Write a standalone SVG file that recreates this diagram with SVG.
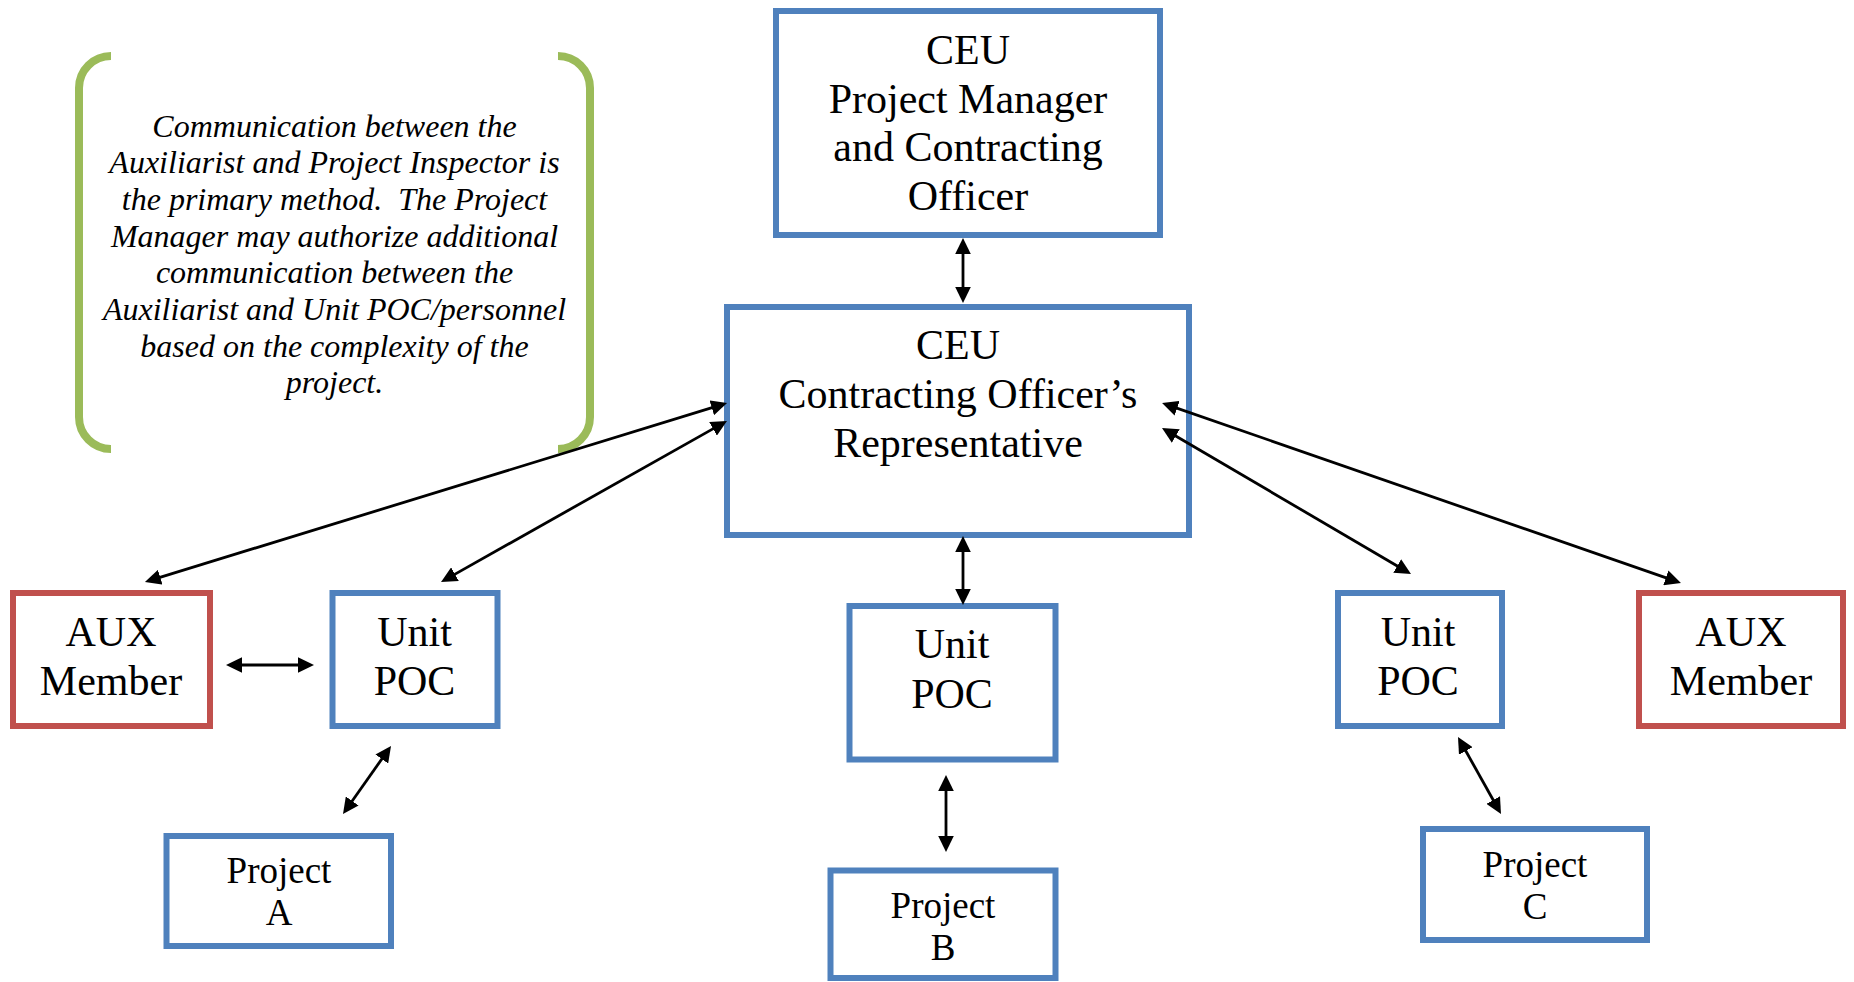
<svg xmlns="http://www.w3.org/2000/svg" width="1854" height="982" viewBox="0 0 1854 982">
<style>
.box{fill:#fff;stroke:#4F81BD;stroke-width:6}
.aux{fill:#fff;stroke:#C0504D;stroke-width:6}
.t{font-family:"Liberation Serif","Times New Roman",serif;font-size:42px;fill:#000;text-anchor:middle}
.p{font-family:"Liberation Serif","Times New Roman",serif;font-size:37px;fill:#000;text-anchor:middle}
.note{font-family:"Liberation Serif","Times New Roman",serif;font-size:32px;font-style:italic;fill:#000;text-anchor:middle}
.br{fill:none;stroke:#9BBB59;stroke-width:8}
.c line{stroke:#000;stroke-width:2.8;marker-start:url(#ah);marker-end:url(#ah)}
</style>
<defs>
<marker id="ah" markerUnits="userSpaceOnUse" markerWidth="16" markerHeight="16" refX="8" refY="7.8" orient="auto-start-reverse" viewBox="0 0 16 15.6">
<path d="M0,0 L16,7.8 L0,15.6 z" fill="#000"/>
</marker>
</defs>
<rect width="1854" height="982" fill="#fff"/>

<g id="note">
<path class="br" d="M111,56 A32,32 0 0 0 79,88 L79,417 A32,32 0 0 0 111,449"/>
<path class="br" d="M558,56 A32,32 0 0 1 590,88 L590,417 A32,32 0 0 1 558,449"/>
<text class="note" x="334.5" y="136.7">Communication between the</text>
<text class="note" x="334.5" y="173.3">Auxiliarist and Project Inspector is</text>
<text class="note" x="334.5" y="210">the primary method.&#160; The Project</text>
<text class="note" x="334.5" y="246.7">Manager may authorize additional</text>
<text class="note" x="334.5" y="283.3">communication between the</text>
<text class="note" x="334.5" y="320">Auxiliarist and Unit POC/personnel</text>
<text class="note" x="334.5" y="356.7">based on the complexity of the</text>
<text class="note" x="334.5" y="393.3">project.</text>
</g>

<g id="pm">
<rect class="box" x="776" y="11" width="384" height="224"/>
<text class="t" x="968" y="64">CEU</text>
<text class="t" x="968" y="112.5">Project Manager</text>
<text class="t" x="968" y="161">and Contracting</text>
<text class="t" x="968" y="210">Officer</text>
</g>

<g id="cor">
<rect class="box" x="727" y="307" width="462" height="228"/>
<text class="t" x="958" y="359">CEU</text>
<text class="t" x="958" y="408">Contracting Officer’s</text>
<text class="t" x="958" y="457">Representative</text>
</g>

<g id="auxL">
<rect class="aux" x="13" y="593" width="197" height="133"/>
<text class="t" x="111" y="646">AUX</text>
<text class="t" x="111" y="695">Member</text>
</g>

<g id="unitA">
<rect class="box" x="332.5" y="593" width="165" height="133"/>
<text class="t" x="414.5" y="646">Unit</text>
<text class="t" x="414.5" y="695">POC</text>
</g>

<g id="unitB">
<rect class="box" x="849.5" y="606" width="206" height="153.5"/>
<text class="t" x="952" y="658">Unit</text>
<text class="t" x="952" y="707.5">POC</text>
</g>

<g id="unitC">
<rect class="box" x="1338" y="593" width="164" height="133"/>
<text class="t" x="1418" y="646">Unit</text>
<text class="t" x="1418" y="695">POC</text>
</g>

<g id="auxR">
<rect class="aux" x="1639" y="593" width="204" height="133"/>
<text class="t" x="1741" y="646">AUX</text>
<text class="t" x="1741" y="695">Member</text>
</g>

<g id="projA">
<rect class="box" x="166.5" y="836" width="224.5" height="110"/>
<text class="p" x="279" y="883">Project</text>
<text class="p" x="279" y="925">A</text>
</g>

<g id="projB">
<rect class="box" x="830.5" y="870.5" width="225" height="107.5"/>
<text class="p" x="943" y="918">Project</text>
<text class="p" x="943" y="960">B</text>
</g>

<g id="projC">
<rect class="box" x="1423" y="829" width="224" height="111"/>
<text class="p" x="1535" y="877">Project</text>
<text class="p" x="1535" y="919">C</text>
</g>

<g id="connectors" class="c">
<line x1="963" y1="246" x2="963" y2="295"/>
<line x1="963" y1="544" x2="963" y2="597"/>
<line x1="946" y1="783" x2="946" y2="844"/>
<line x1="234" y1="665" x2="306" y2="665"/>
<line x1="386.4" y1="752.5" x2="347.6" y2="807.5"/>
<line x1="719.4" y1="405.4" x2="152.6" y2="579.6"/>
<line x1="720" y1="424.9" x2="448" y2="578.1"/>
<line x1="1168.9" y1="432" x2="1404.1" y2="570"/>
<line x1="1169.6" y1="405.6" x2="1673.4" y2="580.4"/>
<line x1="1461.9" y1="744" x2="1497.1" y2="807"/>
</g>
</svg>
